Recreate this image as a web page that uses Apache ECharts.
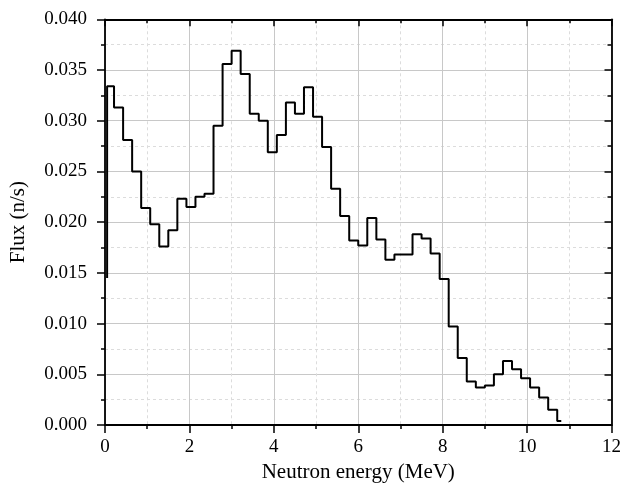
<!DOCTYPE html>
<html>
<head>
<meta charset="utf-8">
<script src="https://cdn.jsdelivr.net/npm/echarts@6/dist/echarts.min.js"></script>
<style>
html,body{margin:0;padding:0;background:#fff;}
#c{width:624px;height:488px;}
</style>
</head>
<body>
<div id="c"></div>
<script>
// Bin left edges (MeV)
const binEdges = [0.05, 0.214, 0.429, 0.643, 0.857, 1.071, 1.286, 1.5, 1.714, 1.929,
  2.143, 2.357, 2.571, 2.786, 3.0, 3.214, 3.429, 3.643, 3.857, 4.071,
  4.286, 4.5, 4.714, 4.929, 5.143, 5.357, 5.571, 5.786, 6.0, 6.214,
  6.429, 6.643, 6.857, 7.071, 7.286, 7.5, 7.714, 7.929, 8.143, 8.357,
  8.571, 8.786, 9.0, 9.214, 9.429, 9.643, 9.857, 10.071, 10.286, 10.5, 10.714];
// Flux per bin (n/s)
const fluxValues = [0.0334, 0.0313, 0.0281, 0.0250, 0.0214, 0.0198, 0.0176, 0.0192, 0.0223, 0.0215,
  0.0225, 0.0228, 0.0295, 0.0356, 0.0369, 0.0346, 0.0307, 0.0300, 0.0269, 0.0286,
  0.0318, 0.0307, 0.0333, 0.0304, 0.0274, 0.0233, 0.0206, 0.0182, 0.0177, 0.0204,
  0.0183, 0.0163, 0.0168, 0.0168, 0.0188, 0.0184, 0.0169, 0.0144, 0.0097, 0.0066,
  0.0043, 0.0037, 0.0039, 0.0050, 0.0063, 0.0055, 0.0046, 0.0037, 0.0027, 0.0015, 0.0004];
const startPoint = [0.05, 0.0145];
const endEnergy = 10.81;

const xTicks = [0, 2, 4, 6, 8, 10, 12];
const yTicks = [0.000, 0.005, 0.010, 0.015, 0.020, 0.025, 0.030, 0.035, 0.040];

const data = [startPoint];
for (let i = 0; i < binEdges.length; i++) data.push([binEdges[i], fluxValues[i]]);
data.push([endEnergy, fluxValues[fluxValues.length - 1]]);

const FONT = 'Liberation Serif';
const axisLine = {show: true, onZero: false, lineStyle: {color: '#000', width: 1.8}};
const tickStyle = {color: '#000', width: 1.5};

const chart = echarts.init(document.getElementById('c'), null, {renderer: 'canvas'});
chart.setOption({
  animation: false,
  backgroundColor: '#fff',
  grid: {left: 102.7, right: 9.7, top: 19.3, bottom: 55, containLabel: false},
  xAxis: [{
    type: 'value', min: xTicks[0], max: xTicks[xTicks.length - 1], interval: 2,
    position: 'bottom',
    name: 'Neutron energy (MeV)', nameLocation: 'middle', nameGap: 37,
    nameTextStyle: {fontFamily: FONT, fontSize: 21, color: '#000'},
    axisLine: axisLine,
    axisTick: {show: true, length: 8, inside: false, lineStyle: tickStyle},
    minorTick: {show: true, splitNumber: 2, length: 4, lineStyle: tickStyle},
    axisLabel: {fontFamily: FONT, fontSize: 19, color: '#000', margin: 13},
    splitLine: {show: true, lineStyle: {color: '#c8c8c8', width: 1}},
    minorSplitLine: {show: true, lineStyle: {color: '#dcdcdc', width: 1, type: [3, 3]}}
  }, {
    type: 'value', min: xTicks[0], max: xTicks[xTicks.length - 1], interval: 2,
    position: 'top',
    axisLine: axisLine,
    axisTick: {show: true, length: 7, inside: true, lineStyle: tickStyle},
    minorTick: {show: true, splitNumber: 2, length: 4, lineStyle: tickStyle},
    axisLabel: {show: false},
    splitLine: {show: false}
  }],
  yAxis: [{
    type: 'value', min: yTicks[0], max: yTicks[yTicks.length - 1], interval: 0.005,
    position: 'left',
    name: 'Flux (n/s)', nameLocation: 'middle', nameGap: 76,
    nameTextStyle: {fontFamily: FONT, fontSize: 21, color: '#000'},
    axisLine: axisLine,
    axisTick: {show: true, length: 8, inside: false, lineStyle: tickStyle},
    minorTick: {show: true, splitNumber: 2, length: 4, lineStyle: tickStyle},
    axisLabel: {fontFamily: FONT, fontSize: 19, color: '#000', margin: 18,
      formatter: v => v.toFixed(3)},
    splitLine: {show: true, lineStyle: {color: '#c8c8c8', width: 1}},
    minorSplitLine: {show: true, lineStyle: {color: '#dcdcdc', width: 1, type: [3, 3]}}
  }, {
    type: 'value', min: yTicks[0], max: yTicks[yTicks.length - 1], interval: 0.005,
    position: 'right',
    axisLine: axisLine,
    axisTick: {show: true, length: 7, inside: true, lineStyle: tickStyle},
    minorTick: {show: true, splitNumber: 2, length: 4, lineStyle: tickStyle},
    axisLabel: {show: false},
    splitLine: {show: false}
  }],
  series: [{
    type: 'line', xAxisIndex: 0, yAxisIndex: 0,
    step: 'end', data: data, showSymbol: false, symbol: 'none',
    lineStyle: {color: '#000', width: 2}, clip: false
  }]
});
</script>
</body>
</html>
